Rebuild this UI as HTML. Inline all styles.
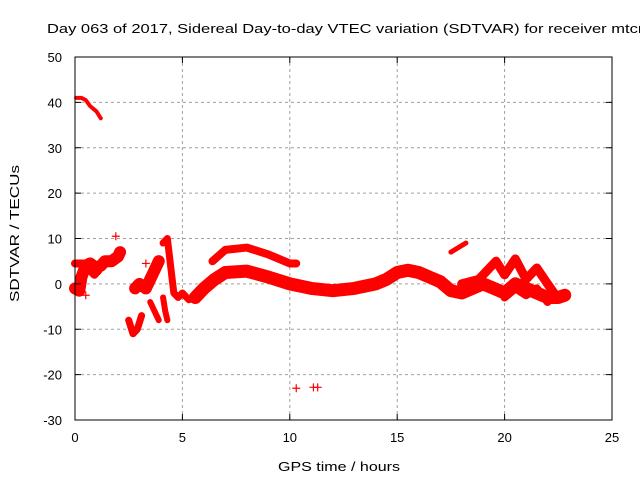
<!DOCTYPE html>
<html><head><meta charset="utf-8"><style>
body{margin:0;background:#fff;width:640px;height:480px;overflow:hidden}
text{font-family:"Liberation Sans",sans-serif;font-size:13px;fill:#000}
</style></head><body>
<svg id="chart" width="640" height="480" xmlns="http://www.w3.org/2000/svg">
<text x="47" y="33" font-size="14" textLength="600" lengthAdjust="spacingAndGlyphs">Day 063 of 2017, Sidereal Day-to-day VTEC variation (SDTVAR) for receiver mtcn</text>
<g id="grid"></g>
<g id="marks"></g>
<rect x="75" y="57" width="537" height="363" fill="none" stroke="#000" stroke-width="1"/>
<g id="ticks"></g>
<text x="278" y="471" font-size="15" textLength="122" lengthAdjust="spacingAndGlyphs">GPS time / hours</text>
<text transform="translate(19,302) rotate(-90)" font-size="15" textLength="137" lengthAdjust="spacingAndGlyphs">SDTVAR / TECUs</text>
</svg>
<script>
const xTicks=[0,5,10,15,20,25];
const yTicks=[-30,-20,-10,0,10,20,30,40,50];
const trackA=[[0.05,41],[0.3,41],[0.5,40.5],[0.7,39.2],[1.0,38],[1.2,36.5]];
const trackEarly=[[0,-1],[0.2,-1.5],[0.3,1.5],[0.5,4],[0.7,4.5],[1.0,3.5],[1.2,4],[1.4,5],[1.7,5],[2.0,6],[2.1,7]];
const trackEarly2=[[0,4.5],[0.4,4.5],[0.7,3],[0.9,2],[1.1,3]];
const trackV=[[2.5,-8],[2.7,-11],[2.9,-10],[3.1,-7]];
const trackMid=[[2.8,-1],[3.0,0],[3.3,-1],[3.5,1],[3.7,3],[3.9,5]];
const trackMid2=[[3.5,-4],[3.7,-6],[3.9,-8]];
const trackSpike=[[4.1,9],[4.3,10],[4.4,6],[4.5,2],[4.6,-2],[4.8,-3],[5.0,-2],[5.3,-3.5],[5.6,-3]];
const trackSpike2=[[4.1,-3],[4.2,-6],[4.3,-8]];
const trackLow=[[5.6,-3],[6,-1],[6.5,1],[7,2.5],[8,2.8],[9,1.5],[10,0],[11,-1],[12,-1.5],[13,-1],[14,0],[14.5,1],[15,2.5],[15.5,3],[16,2.5],[16.5,1.5],[17,0.5],[17.5,-1.5],[18,-2],[18.5,-1],[19,0],[19.5,-1],[20,-2],[20.5,0],[21,-1],[21.5,-2],[22,-3],[22.5,-3],[22.8,-2.5]];
const trackUp=[[6.4,5],[7,7.5],[8,8],[9,6.5],[10,4.5],[10.3,4.5]];
const trackSmall=[[17.5,7],[18.2,9]];
const trackRight=[[18,0],[18.8,1],[19.2,3],[19.6,5],[20,2],[20.5,5.5],[21,1],[21.5,3.5],[22,0],[22.3,-2]];
const trackRight2=[[20,-3],[20.5,-1],[21,-2.5],[21.5,-1],[22,-4]];
const outliers=[[1.9,10.5],[10.3,-23],[11.1,-22.8],[11.3,-22.8],[0.5,-2.5],[3.3,4.5]];
const tracks=[[trackA,4],[trackEarly,12],[trackEarly2,8],[trackV,7],[trackMid,12],[trackMid2,6],[trackSpike,7],[trackSpike2,6],[trackLow,13],[trackUp,8],[trackSmall,5],[trackRight,9],[trackRight2,8]];
const NS="http://www.w3.org/2000/svg";
const X=v=>75+v*537/25, Y=v=>420-(v+30)*363/80;
const grid=document.getElementById('grid'),ticks=document.getElementById('ticks'),marks=document.getElementById('marks');
function mk(t,a,p){const e=document.createElementNS(NS,t);for(const k in a)e.setAttribute(k,a[k]);p.appendChild(e);return e;}
xTicks.forEach(t=>{const x=X(t);
 if(t>0&&t<25){const g=mk('line',{x1:x,x2:x,y1:57,y2:420,stroke:'#a0a0a0','stroke-dasharray':'3,3'},grid);}
 const l=mk('line',{x1:x,x2:x,y1:420,y2:414,stroke:'#000'},ticks);
 const l2=mk('line',{x1:x,x2:x,y1:57,y2:63,stroke:'#000'},ticks);
 const tx=mk('text',{x:x,y:442,'text-anchor':'middle'},ticks);tx.textContent=t;});
yTicks.forEach(t=>{const y=Y(t);
 if(t>-30&&t<50){const g=mk('line',{x1:75,x2:612,y1:y,y2:y,stroke:'#a0a0a0','stroke-dasharray':'3,3'},grid);}
 const l=mk('line',{x1:75,x2:81,y1:y,y2:y,stroke:'#000'},ticks);
 const l2=mk('line',{x1:606,x2:612,y1:y,y2:y,stroke:'#000'},ticks);
 const tx=mk('text',{x:62,y:y+5,'text-anchor':'end'},ticks);tx.textContent=t;});
tracks.forEach(([pts,w])=>{
 const p=mk('polyline',{points:pts.map(d=>X(d[0])+','+Y(d[1])).join(' '),fill:'none',stroke:'#f00','stroke-width':w,'stroke-linejoin':'round','stroke-linecap':'round'},marks);
 
 });
outliers.forEach(d=>{
 const p=mk('path',{d:`M${X(d[0])-4},${Y(d[1])}h8M${X(d[0])},${Y(d[1])-4}v8`,stroke:'#f00','stroke-width':1.2},marks);
 
 });
</script>
</body></html>
